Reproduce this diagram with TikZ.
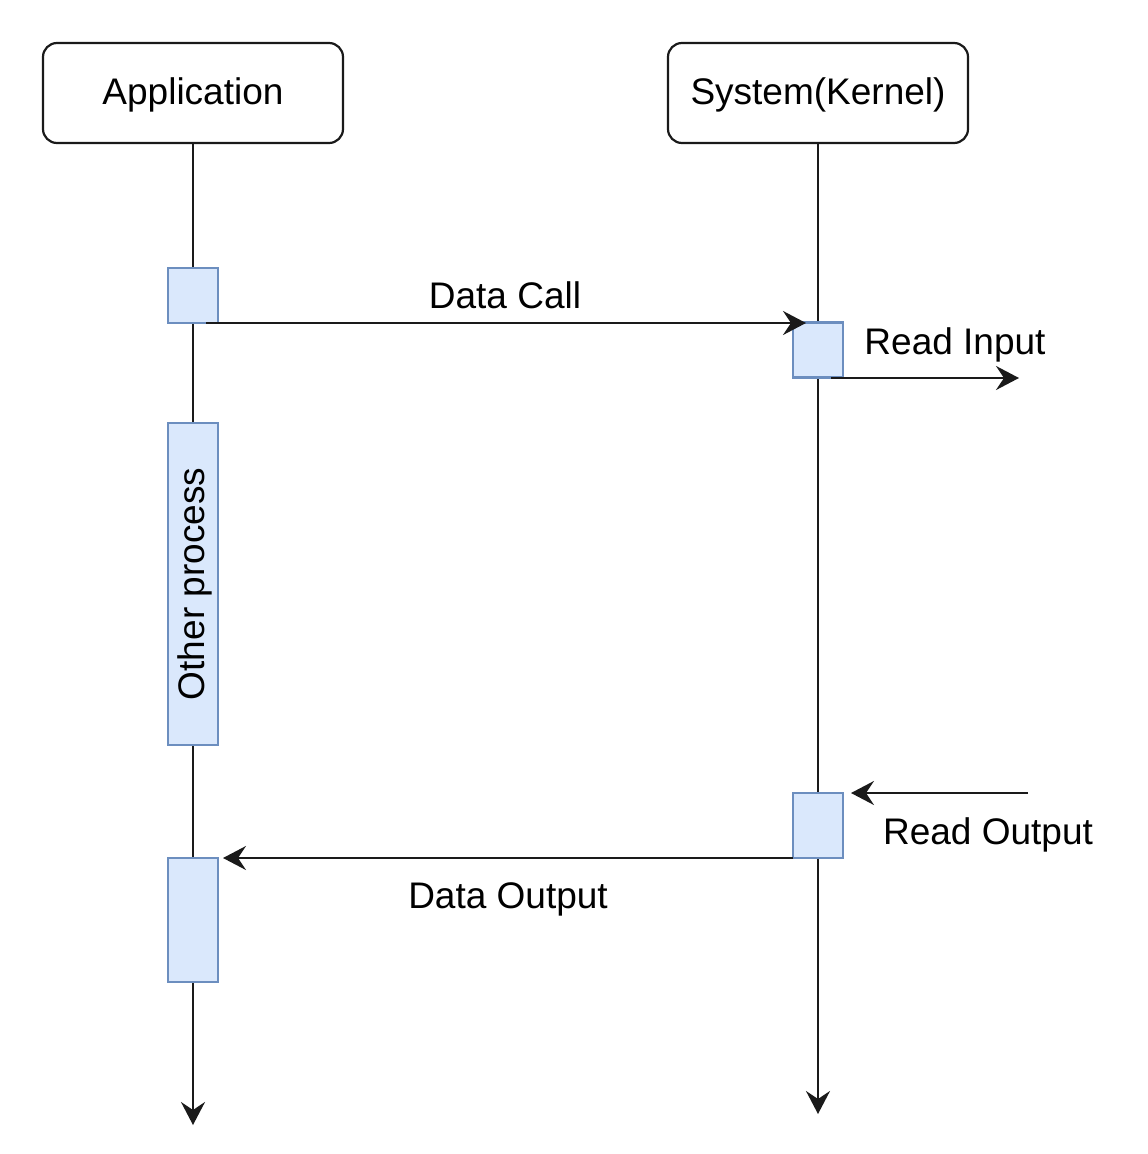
\documentclass[tikz,border=0pt]{standalone}
\usepackage{fontspec}
\setmainfont{Liberation Sans}
\usetikzlibrary{arrows.meta}
\definecolor{actfill}{HTML}{DAE8FC}
\definecolor{actdraw}{HTML}{6C8EBF}
\definecolor{lineclr}{HTML}{1A1A1A}
\begin{document}
\begin{tikzpicture}[x=1pt,y=-1pt,
  every node/.style={font=\fontsize{37}{44}\selectfont},
  actor/.style={draw=lineclr,line width=2.2pt,rounded corners=14pt,minimum width=300pt,minimum height=100pt,inner sep=0pt},
  act/.style={draw=actdraw,fill=actfill,line width=2.2pt,minimum width=50pt,inner sep=0pt},
  msg/.style={draw=lineclr,line width=2.4pt,-{Stealth[length=23pt,width=24pt,inset=8pt]}},
  life/.style={draw=lineclr,line width=2.4pt,-{Stealth[length=23pt,width=24pt,inset=8pt]}},
  lbl/.style={inner sep=0pt}]
\useasboundingbox (0,0) rectangle (1148,1154);
\node[actor] (app) at (193,93) {};
\node[lbl] (applbl) at (193,95) {Application};
\node[actor] (sys) at (818,93) {};
\node[lbl] (syslbl) at (818,95) {System(Kernel)};
\coordinate (append) at (193,1125);
\coordinate (sysend) at (818,1114);
\draw[life] (app.south) -- (append);
\draw[life] (sys.south) -- (sysend);
\node[act,minimum height=55pt] (a1) at (193,295.5) {};
\node[act,minimum height=322pt] (a2) at (193,584) {};
\node[lbl,rotate=90] (other) at (195,584) {Other process};
\node[act,minimum height=124pt] (a3) at (193,920) {};
\node[act,minimum height=55pt] (s1) at (818,350) {};
\node[act,minimum height=65pt] (s2) at (818,825.5) {};
\coordinate (dcs) at (206,323);
\coordinate (dce) at (806,323);
\draw[msg] (dcs) -- (dce);
\node[lbl] (dclbl) at (505,295) {Data Call};
\coordinate (ris) at (831,378);
\coordinate (rie) at (1019,378);
\draw[msg] (ris) -- (rie);
\node[lbl] (rilbl) at (955,345) {Read Input};
\coordinate (ros) at (1028,793);
\coordinate (roe) at (851,793);
\draw[msg] (ros) -- (roe);
\node[lbl] (rolbl) at (988,835) {Read Output};
\coordinate (dos) at (793,858);
\coordinate (doe) at (223,858);
\draw[msg] (dos) -- (doe);
\node[lbl] (dolbl) at (508,899) {Data Output};
\end{tikzpicture}
\end{document}
